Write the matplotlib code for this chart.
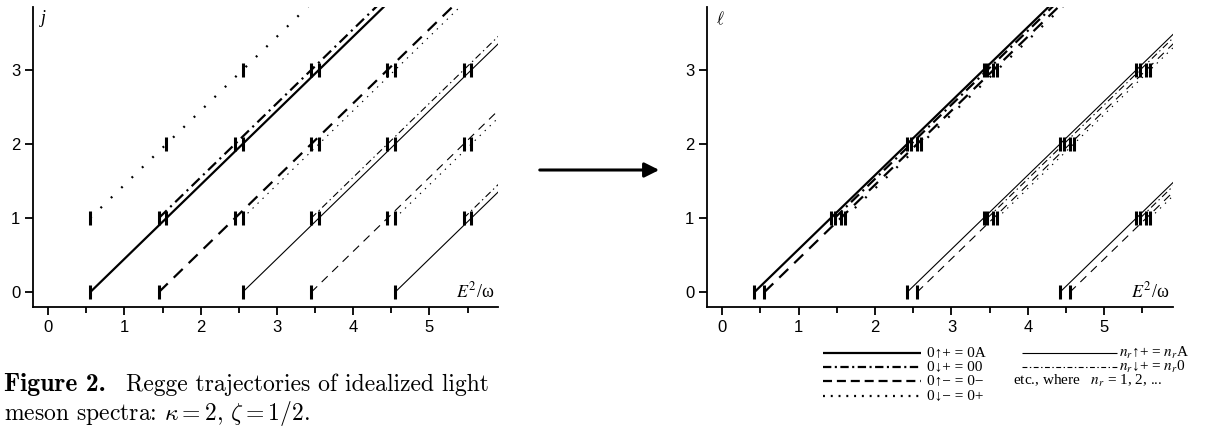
import numpy as np
import matplotlib
matplotlib.use('Agg')
import matplotlib.pyplot as plt
import matplotlib.transforms as mtransforms

plt.rcParams['lines.scale_dashes'] = False
plt.rcParams['font.family'] = ['Liberation Sans', 'DejaVu Sans']

# ---------------- data ----------------
# Trajectory j = E^2/omega - x0, starting at j = j0
left_x0 = [0.55, 0.45, 1.45, -0.45, 2.55, 2.45, 3.45, 1.55, 4.55, 4.45, 3.55]
left_j0 = [0, 1, 0, 1, 0, 1, 0, 1, 0, 1, 1]
left_style = ['A', 'O', 'M', 'P', 'nA', 'nO', 'nM', 'nP', 'nA', 'nO', 'nP']

right_x0 = [0.42, 0.47, 0.55, 0.60, 2.42, 2.47, 2.55, 2.60, 4.42, 4.47, 4.55, 4.60]
right_l0 = [0, 1, 0, 1, 0, 1, 0, 1, 0, 1, 0, 1]
right_style = ['A', 'O', 'M', 'P', 'nA', 'nO', 'nM', 'nP', 'nA', 'nO', 'nM', 'nP']

x_ticks = [0, 1, 2, 3, 4, 5]
x_minor = [0.5, 1.5, 2.5, 3.5, 4.5, 5.5]
y_ticks = [0, 1, 2, 3]
state_levels = [0, 1, 2, 3]

legend_left = ['0\u2191+ = 0A', '0\u2193+ = 00', '0\u2191\u2212 = 0\u2212', '0\u2193\u2212 = 0+']
legend_right = [r'$n_r$' + '\u2191+ = ' + r'$n_r$' + 'A',
                r'$n_r$' + '\u2193+ = ' + r'$n_r$' + '0',
                r'etc., where   $n_r$ = 1, 2, ...']

XLIM = (-0.2, 5.9)
YLIM = (-0.2, 3.85)

STY = {
    'A':  dict(lw=1.6, dashes=None),
    'O':  dict(lw=1.6, dashes=(8, 3.5, 1.5, 3.5)),
    'M':  dict(lw=1.6, dashes=(9, 6)),
    'P':  dict(lw=1.6, dashes=(1.4, 9)),
    'nA': dict(lw=0.8, dashes=None),
    'nO': dict(lw=0.8, dashes=(5, 2.5, 1, 2.5)),
    'nM': dict(lw=0.8, dashes=(6, 4.5)),
    'nP': dict(lw=0.8, dashes=(1, 4)),
    # legend samples
    'LO': dict(lw=1.6, dashes=(6, 2.5, 1.5, 2.5)),
    'LM': dict(lw=1.6, dashes=(6.5, 3.5)),
    'LP': dict(lw=1.6, dashes=(1.4, 4.2)),
    'LnO': dict(lw=0.8, dashes=(3.5, 1.8, 1, 1.8)),
}


def draw_line(ax, xs, ys, key, **kw):
    s = STY[key]
    ln, = ax.plot(xs, ys, color='k', lw=s['lw'], solid_capstyle='butt',
                  dash_capstyle='butt', **kw)
    if s['dashes'] is not None:
        ln.set_dashes(s['dashes'])
    return ln


fig = plt.figure(figsize=(12.05, 4.26), dpi=100)
axL = fig.add_axes([33 / 1205, 119 / 426, 465 / 1205, 300 / 426])
axR = fig.add_axes([707 / 1205, 119 / 426, 466 / 1205, 300 / 426])


def draw_panel(ax, x0s, j0s, styles):
    for x0, j0, st in zip(x0s, j0s, styles):
        jj = np.array([j0, 5.0])
        draw_line(ax, jj + x0, jj, st)
        lv = [j for j in state_levels if j >= j0 and j + x0 <= XLIM[1]]
        ax.plot([j + x0 for j in lv], lv, ls='none', marker='|', ms=10,
                mew=2.2, color='k')
    ax.set_xlim(*XLIM)
    ax.set_ylim(*YLIM)
    for sp in ('top', 'right'):
        ax.spines[sp].set_visible(False)
    for sp in ('left', 'bottom'):
        ax.spines[sp].set_linewidth(1.3)
    ax.set_xticks(x_ticks)
    ax.set_xticks(x_minor, minor=True)
    ax.set_yticks(y_ticks)
    ax.tick_params(direction='out', length=6, width=1.3, labelsize=12,
                   pad=3)
    ax.tick_params(which='minor', direction='out', length=4, width=1.3)
    tr = mtransforms.blended_transform_factory(ax.transAxes, ax.transData)
    ax.text(0.993, -0.07, r'$E^2$' + '/\u03c9', transform=tr, ha='right',
            va='baseline', family=['Liberation Serif', 'DejaVu Serif'],
            fontsize=13, math_fontfamily='stix')


draw_panel(axL, left_x0, left_j0, left_style)
draw_panel(axR, right_x0, right_l0, right_style)

axL.text(0.016, 0.99, 'j', transform=axL.transAxes, ha='left', va='top',
         family=['Liberation Serif', 'DejaVu Serif'], style='italic',
         fontsize=13)
axR.text(0.02, 0.99, r'$\ell$', transform=axR.transAxes, ha='left', va='top',
         fontsize=12, math_fontfamily='cm')

# arrow between panels
fig.patches.append(matplotlib.patches.FancyArrowPatch(
    (537 / 1205, 256 / 426), (662 / 1205, 256 / 426),
    transform=fig.transFigure, arrowstyle='-|>', mutation_scale=22,
    lw=2.2, color='k'))

# overlay in pixel coordinates for caption and legend
axF = fig.add_axes([0, 0, 1, 1])
axF.set_xlim(0, 1205)
axF.set_ylim(426, 0)
axF.axis('off')

axF.text(4, 391, 'Figure 2.', family=['cmb10', 'DejaVu Serif'],
         fontweight='bold', fontsize=18.5, va='baseline')
axF.text(126, 391, 'Regge trajectories of idealized light',
         family=['cmr10', 'DejaVu Serif'], fontsize=17, va='baseline')
axF.text(4, 420, r'meson spectra: $\kappa = 2$, $\zeta = 1/2$.',
         family=['cmr10', 'DejaVu Serif'], math_fontfamily='cm',
         fontsize=17, va='baseline')

rows_y = [353, 367, 381, 396]
left_keys = ['A', 'LO', 'LM', 'LP']
right_keys = ['nA', 'LnO']
serif = ['Liberation Serif', 'DejaVu Serif']
for y, key, txt in zip(rows_y, left_keys, legend_left):
    draw_line(axF, [823, 921], [y, y], key)
    axF.text(927, y, txt, va='center', ha='left', family=serif,
             fontsize=11, math_fontfamily='stix')
for y, key, txt in zip(rows_y[:2], right_keys, legend_right[:2]):
    draw_line(axF, [1022, 1117], [y, y], key)
    axF.text(1119, y, txt, va='center', ha='left', family=serif,
             fontsize=11, math_fontfamily='stix')
axF.text(1013, rows_y[2], legend_right[2], va='center', ha='left',
         family=serif, fontsize=11, math_fontfamily='stix')

fig.savefig('out.png', dpi=100)
